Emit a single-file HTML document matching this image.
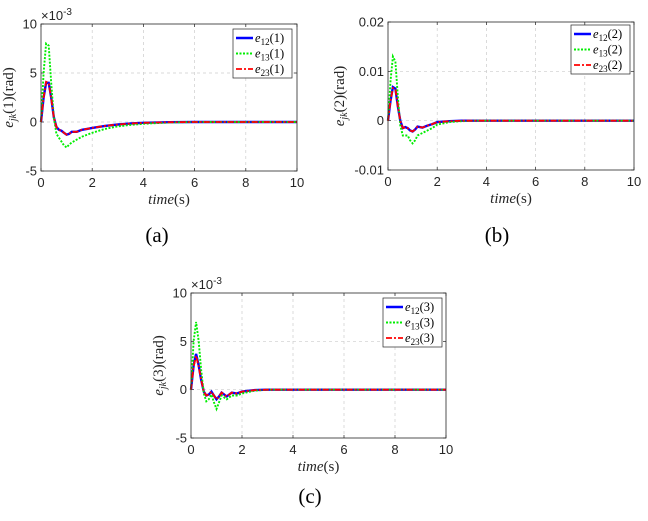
<!DOCTYPE html>
<html><head><meta charset="utf-8"><style>
body{margin:0;background:#fff;width:648px;height:521px;overflow:hidden}
svg{display:block}
.tick{font-family:"Liberation Sans",sans-serif;font-size:13px;fill:#262626}
.lab{font-family:"Liberation Serif",serif;font-size:15px;fill:#262626}
.cap{font-family:"Liberation Serif",serif;font-size:21px;fill:#000}
.leg{font-family:"Liberation Serif",serif;font-size:12.5px;fill:#000}
</style></head><body>
<svg id="chart" width="648" height="521"></svg>
<script>
const times=[0,0.1,0.2,0.3,0.4,0.5,0.6,0.7,0.8,0.9,1.0,1.1,1.2,1.4,1.6,1.8,2,2.5,3,3.5,4,5,6,8,10];
const xTicks=[0,2,4,6,8,10];
const a12=[0,2.5,4,4,2.5,0.5,-0.5,-0.8,-0.9,-1.1,-1.3,-1.2,-1.0,-1.0,-0.8,-0.7,-0.6,-0.4,-0.25,-0.15,-0.08,-0.02,0,0,0];
const a13=[0,5,8,7.8,4,0.5,-1.2,-1.6,-2,-2.4,-2.6,-2.3,-2.1,-1.8,-1.5,-1.3,-1.1,-0.7,-0.45,-0.3,-0.18,-0.05,0,0,0];
const a23=[0,2.5,4.1,4,2.4,0.5,-0.5,-0.8,-0.9,-1.1,-1.3,-1.2,-1.0,-1.0,-0.8,-0.7,-0.6,-0.4,-0.25,-0.15,-0.08,-0.02,0,0,0];
const b12=[0,0.004,0.0068,0.0065,0.003,0,-0.0015,-0.0013,-0.0015,-0.002,-0.0022,-0.0018,-0.0012,-0.0014,-0.001,-0.0007,-0.0003,-0.0001,0,0,0,0,0,0,0];
const b13=[0,0.008,0.013,0.012,0.005,-0.001,-0.003,-0.003,-0.003,-0.004,-0.0046,-0.004,-0.003,-0.0025,-0.002,-0.0015,-0.0008,-0.0003,-0.0001,0,0,0,0,0,0];
const b23=[0,0.004,0.0066,0.0064,0.003,0,-0.0015,-0.0013,-0.0015,-0.002,-0.0022,-0.0018,-0.0012,-0.0014,-0.001,-0.0007,-0.0003,-0.0001,0,0,0,0,0,0,0];
const c12=[0,2.5,3.7,2.5,1,-0.2,-0.6,-0.5,-0.2,-0.6,-1.0,-0.7,-0.3,-0.7,-0.3,-0.4,-0.2,-0.05,0,0,0,0,0,0,0];
const c13=[0,5,7,5,2,-0.4,-1.2,-1.0,-0.5,-1.3,-2.0,-1.3,-0.6,-1.0,-0.6,-0.6,-0.4,-0.1,0,0,0,0,0,0,0];
const c23=[0,2.4,3.5,2.4,1,-0.2,-0.6,-0.5,-0.2,-0.6,-1.0,-0.7,-0.3,-0.7,-0.3,-0.4,-0.2,-0.05,0,0,0,0,0,0,0];
const aTicks=[-5,0,5,10], bTicks=[-0.01,0,0.01,0.02], bTickLabels=["-0.01","0","0.01","0.02"];
const svg=document.getElementById('chart');
const NS='http://www.w3.org/2000/svg';
function mk(tag,at,parent){const e=document.createElementNS(NS,tag);for(const k in at)e.setAttribute(k,at[k]);(parent||svg).appendChild(e);return e;}
function panel(id,L,R,T,B,ymin,ymax,yt,ytl,series,idx,leg,exp,cap,yoff){
  const g=mk('g',{});
  
  
  const sx=v=>L+(v-0)/10*(R-L), sy=v=>B-(v-ymin)/(ymax-ymin)*(B-T);
  mk('rect',{x:L,y:T,width:R-L,height:B-T,fill:'#fff'},g);
  xTicks.forEach(v=>{if(v>0&&v<10){const l=mk('line',{x1:sx(v),x2:sx(v),y1:T,y2:B,stroke:'#ccc','stroke-dasharray':'3,3','stroke-width':0.7},g);}
    const t=mk('text',{x:sx(v),y:B+16,'text-anchor':'middle',class:'tick'},g);t.textContent=v;
    
    mk('line',{x1:sx(v),x2:sx(v),y1:B,y2:B-3,stroke:'#262626','stroke-width':0.7},g);mk('line',{x1:sx(v),x2:sx(v),y1:T,y2:T+3,stroke:'#262626','stroke-width':0.7},g);});
  yt.forEach((v,i)=>{const y=sy(v);if(v>ymin&&v<ymax){const l=mk('line',{x1:L,x2:R,y1:y,y2:y,stroke:'#ccc','stroke-dasharray':'3,3','stroke-width':0.7},g);}
    const t=mk('text',{x:L-4,y:y+4.5,'text-anchor':'end',class:'tick'},g);t.textContent=ytl[i];
    
    mk('line',{x1:L,x2:L+3,y1:y,y2:y,stroke:'#262626','stroke-width':0.7},g);mk('line',{x1:R,x2:R-3,y1:y,y2:y,stroke:'#262626','stroke-width':0.7},g);});
  const styles=[{stroke:'#0000ff',w:2.4,d:''},{stroke:'#00ee00',w:1.9,d:'2,1.5'},{stroke:'#ff0000',w:1.8,d:'6,2,2,2'}];
  const names=['e12','e13','e23'];
  series.forEach((s,k)=>{const p=s.map((v,i)=>(i?'L':'M')+sx(times[i]).toFixed(1)+','+sy(v).toFixed(1)).join('');
    const e=mk('path',{d:p,fill:'none',stroke:styles[k].stroke,'stroke-width':styles[k].w,'stroke-dasharray':styles[k].d},g);
    });
  mk('rect',{x:L,y:T,width:R-L,height:B-T,fill:'none',stroke:'#262626','stroke-width':0.8},g);
  if(exp){const t=mk('text',{x:L,y:T-4,class:'tick'},g);t.innerHTML='×10<tspan dy="-5" font-size="10">-3</tspan>';}
  const xl=mk('text',{x:(L+R)/2,y:B+33,'text-anchor':'middle',class:'lab'},g);xl.innerHTML='<tspan font-style="italic">time</tspan>(s)';
  
  const yl=mk('text',{x:0,y:0,'text-anchor':'middle',class:'lab',transform:`translate(${L-yoff},${(T+B)/2}) rotate(-90)`},g);
  yl.innerHTML='<tspan font-style="italic">e</tspan><tspan font-style="italic" font-size="10" dy="3">jk</tspan><tspan dy="-3">('+idx+')(rad)</tspan>';
  
  const lg=mk('g',{},g);
  mk('rect',{x:leg[0],y:leg[1],width:59,height:49,fill:'#fff',stroke:'#262626','stroke-width':0.7},lg);
  const subs=['12','13','23'];
  styles.forEach((s,k)=>{const y=leg[1]+9+k*15.5;
    mk('line',{x1:leg[0]+3,x2:leg[0]+20,y1:y,y2:y,stroke:s.stroke,'stroke-width':s.w,'stroke-dasharray':s.d},lg);
    const t=mk('text',{x:leg[0]+22,y:y+4,class:'leg'},lg);
    t.innerHTML='<tspan font-style="italic">e</tspan><tspan font-size="9" dy="3">'+subs[k]+'</tspan><tspan dy="-3">('+idx+')</tspan>';
    });
  const c=mk('text',{x:cap[0],y:cap[1],'text-anchor':'middle',class:'cap'});c.textContent=cap[2];
  
}
panel('a',41,297,24,171,-5,10,aTicks,aTicks,[a12,a13,a23],1,[233,29],true,[157,242,'(a)'],28);
panel('b',388,634,22,170,-0.01,0.02,bTicks,bTickLabels,[b12,b13,b23],2,[571,25],false,[497,242,'(b)'],44);
panel('c',191,446,293,438,-5,10,aTicks,aTicks,[c12,c13,c23],3,[383,298],true,[310,503,'(c)'],28);
</script>
</body></html>
